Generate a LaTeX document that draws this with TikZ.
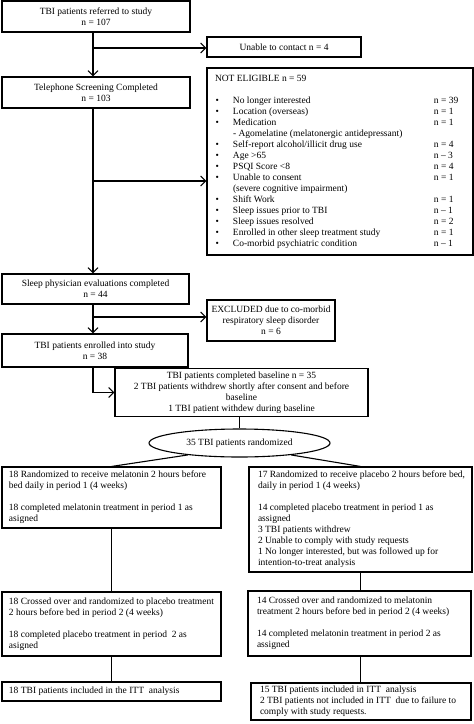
\documentclass[tikz,border=0pt]{standalone}
\usepackage{fontspec}
\setmainfont{Liberation Serif}
\usetikzlibrary{arrows.meta,shapes.geometric}
\newcommand\fsz{\fontsize{9.5}{11}\selectfont}
\newcommand\lbxx[2]{\makebox[#1][l]{\begin{tabular}{@{}l@{}}#2\end{tabular}}}
\newcommand\nebul{\hspace*{8.5pt}\textbullet}
\begin{document}
\begin{tikzpicture}[x=1pt,y=-1pt,
 every node/.style={font=\fsz},
 cbox/.style={draw, line width=1.1pt, inner sep=0pt, align=center},
 lboxx/.style={draw, line width=1.1pt, inner ysep=0pt},
 arr/.style={line width=1.1pt, -{Straight Barb[length=5pt,width=10pt]}},
 ln/.style={line width=1.1pt}]
\useasboundingbox (0,0) rectangle (474,724);

\node[cbox, minimum width=188pt, minimum height=31pt] (b1) at (96,16.5) {TBI patients referred to study\\ n = 107};
\node[cbox, minimum width=154pt, minimum height=20pt] (unable) at (284,47) {Unable to contact n = 4};
\node[cbox, minimum width=188pt, minimum height=31pt] (tel) at (96,92.5) {Telephone Screening Completed\\ n = 103};
\node[cbox, minimum width=266pt, minimum height=187pt] (ne) at (340,161.5) {%
\begin{tabular}{@{}p{26pt}@{}p{201pt}@{}p{39pt}@{}}
\multicolumn{3}{@{\hspace{8pt}}l@{}}{NOT ELIGIBLE n = 59}\\[11pt]
\nebul & No longer interested & n = 39\\
\nebul & Location (overseas) & n = 1\\
\nebul & Medication & n = 1\\
 & - Agomelatine (melatonergic antidepressant) & \\
\nebul & Self-report alcohol/illicit drug use & n = 4\\
\nebul & Age >65 & n – 3\\
\nebul & PSQI Score <8 & n = 4\\
\nebul & Unable to consent & n = 1\\
 & (severe cognitive impairment) & \\
\nebul & Shift Work & n = 1\\
\nebul & Sleep issues prior to TBI & n – 1\\
\nebul & Sleep issues resolved & n = 2\\
\nebul & Enrolled in other sleep treatment study & n = 1\\
\nebul & Co-morbid psychiatric condition & n – 1
\end{tabular}};
\node[cbox, minimum width=187pt, minimum height=30pt] (sleep) at (95.5,289) {Sleep physician evaluations completed\\ n = 44};
\node[cbox, minimum width=128pt, minimum height=41pt] (excl) at (271,320.5) {EXCLUDED due to co-morbid\\ respiratory sleep disorder\\ n = 6};
\node[cbox, minimum width=186pt, minimum height=33pt] (enr) at (95,350.5) {TBI patients enrolled into study\\ n = 38};
\node[cbox, minimum width=253pt, minimum height=48pt] (base) at (241.5,392.5) {TBI patients completed baseline n = 35\\ 2 TBI patients withdrew shortly after consent and before\\ baseline\\ 1 TBI patient withdew during baseline};
\node[draw, ellipse, line width=1.1pt, minimum width=181pt, minimum height=28pt, inner sep=0pt] (ell) at (239.5,443) {35 TBI patients randomized};

\node[lboxx, inner xsep=7pt, minimum height=61pt] (lb1) at (111.5,497.5) {\lbxx{205pt}{18 Randomized to receive melatonin 2 hours before\\ bed daily in period 1 (4 weeks)\\[11pt] 18 completed melatonin treatment in period 1 as\\ asigned}};
\node[lboxx, inner xsep=9pt, minimum height=105pt] (rb1) at (360.5,519.5) {\lbxx{205pt}{17 Randomized to receive placebo 2 hours before bed,\\ daily in period 1 (4 weeks)\\[11pt] 14 completed placebo treatment in period 1 as\\ assigned\\ 3 TBI patients withdrew\\ 2 Unable to comply with study requests\\ 1 No longer interested, but was followed up for\\ intention-to-treat analysis}};
\node[lboxx, inner xsep=7pt, minimum height=64pt] (lb2) at (111.5,624) {\lbxx{205pt}{18 Crossed over and randomized to placebo treatment\\ 2 hours before bed in period 2 (4 weeks)\\[11pt] 18 completed placebo treatment in period\ \ 2 as\\ asigned}};
\node[lboxx, inner xsep=9pt, minimum height=65pt] (rb2) at (359.5,623.5) {\lbxx{205pt}{14 Crossed over and randomized to melatonin\\ treatment 2 hours before bed in period 2 (4 weeks)\\[11pt] 14 completed melatonin treatment in period 2 as\\ assigned}};
\node[lboxx, inner xsep=7pt, minimum height=19pt] (litt) at (111.5,691.5) {\lbxx{205pt}{18 TBI patients included in the ITT\ \ analysis}};
\node[lboxx, inner xsep=9pt, minimum height=37pt] (ritt) at (361,701.5) {\lbxx{202pt}{15 TBI patients included in ITT\ \ analysis\\ 2 TBI patients not included in ITT\ \ due to failure to\\ comply with study requests.}};

\coordinate (t1) at (93,48);
\coordinate (t2) at (93,181);
\coordinate (t3) at (93,317);
\draw[arr] (b1.south -| t1) -- (tel.north -| t1);
\draw[arr] (t1) -- (t1 -| unable.west);
\draw[arr] (tel.south -| t2) -- (sleep.north -| t2);
\draw[arr] (t2) -- (t2 -| ne.west);
\draw[arr] (sleep.south -| t3) -- (enr.north -| t3);
\draw[arr] (t3) -- (t3 -| excl.west);
\draw[arr] (enr.south -| t3) |- (base.west);
\draw[ln] (base.south -| ell.north) -- (ell.north);
\draw[ln] (ell.193) -- (lb1.north);
\draw[ln] (ell.-13) -- (rb1.north);
\draw[ln] (lb1.south) -- (lb2.north);
\draw[ln] (lb2.south) -- (litt.north);
\draw[ln] (rb1.south) -- (rb1.south |- rb2.north);
\draw[ln] (rb2.south -| rb1.south) -- (rb1.south |- ritt.north);
\end{tikzpicture}
\end{document}
